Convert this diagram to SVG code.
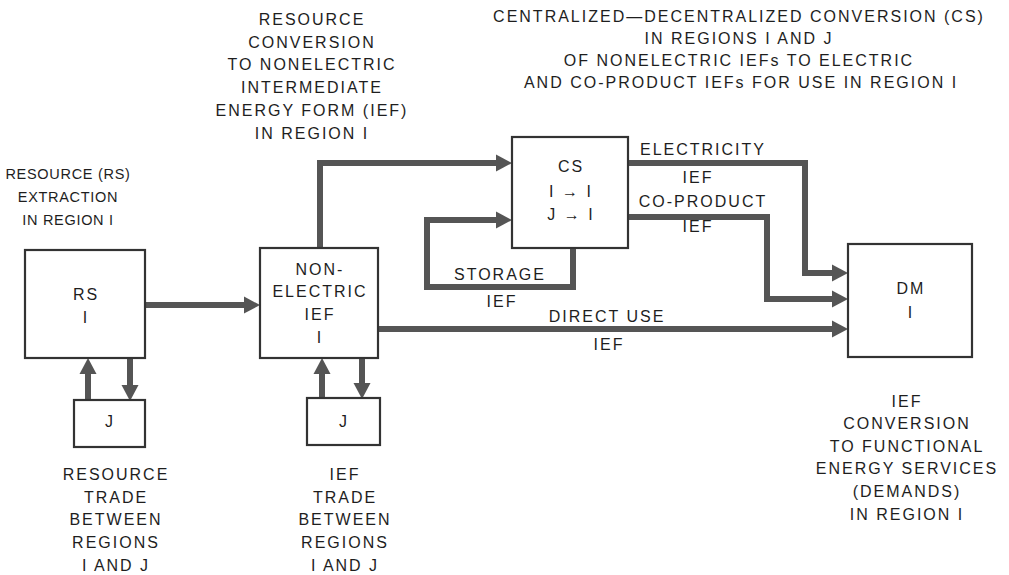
<svg xmlns="http://www.w3.org/2000/svg" width="1009" height="575" viewBox="0 0 1009 575">
<defs>
<style>
text{font-family:"Liberation Sans",Arial,sans-serif;font-size:16px;fill:#1e1e1e;letter-spacing:2px;text-anchor:middle}
.sm{font-size:14.5px;letter-spacing:0.7px}
.box{fill:#fff;stroke:#333;stroke-width:2.2}
.conn{fill:none;stroke:#555;stroke-width:6;stroke-linejoin:miter}
</style>
<marker id="ah" markerUnits="userSpaceOnUse" markerWidth="17" markerHeight="18" refX="0" refY="9" orient="auto">
<path d="M0,0.5 L16,9 L0,17.5 Z" fill="#555"/>
</marker>
</defs>
<rect width="1009" height="575" fill="#fff"/>

<g id="connectors">
<path class="conn" d="M145,305 H244" marker-end="url(#ah)"/>
<path class="conn" d="M88,400 V374" marker-end="url(#ah)"/>
<path class="conn" d="M130,358 V385" marker-end="url(#ah)"/>
<path class="conn" d="M322,398 V374" marker-end="url(#ah)"/>
<path class="conn" d="M362,358 V383" marker-end="url(#ah)"/>
<path class="conn" d="M320,248 V163 H496" marker-end="url(#ah)"/>
<path class="conn" d="M573,248 V287 H427 V220 H496" marker-end="url(#ah)"/>
<path class="conn" d="M628,163 H805 V273 H832" marker-end="url(#ah)"/>
<path class="conn" d="M628,217 H767 V299 H832" marker-end="url(#ah)"/>
<path class="conn" d="M377,329 H832" marker-end="url(#ah)"/>
<text x="703" y="155">ELECTRICITY</text>
<text x="698" y="183">IEF</text>
<text x="703" y="207">CO-PRODUCT</text>
<text x="698" y="232">IEF</text>
<text x="500" y="280">STORAGE</text>
<text x="502" y="307">IEF</text>
<text x="607" y="322">DIRECT USE</text>
<text x="609" y="350">IEF</text>
</g>

<g id="rs">
<rect class="box" x="25" y="250" width="120" height="108"/>
<text x="86" y="300">RS</text>
<text x="86" y="323">I</text>
</g>
<g id="rs-j">
<rect class="box" x="74" y="400" width="71" height="47"/>
<text x="110" y="427">J</text>
</g>
<g id="ne">
<rect class="box" x="260" y="248" width="118" height="110"/>
<text x="320" y="275">NON-</text>
<text x="320" y="297">ELECTRIC</text>
<text x="320" y="320">IEF</text>
<text x="320" y="343">I</text>
</g>
<g id="ne-j">
<rect class="box" x="307" y="398" width="73" height="47"/>
<text x="344" y="427">J</text>
</g>
<g id="cs">
<rect class="box" x="512" y="137" width="116" height="111"/>
<text x="571" y="172">CS</text>
<text x="571" y="197">I → I</text>
<text x="571" y="220">J → I</text>
</g>
<g id="dm">
<rect class="box" x="848" y="244" width="124" height="113"/>
<text x="911" y="294">DM</text>
<text x="911" y="318">I</text>
</g>

<g id="labels">
<text class="sm" x="68" y="179">RESOURCE (RS)</text>
<text class="sm" x="68" y="202">EXTRACTION</text>
<text class="sm" x="68" y="225">IN REGION I</text>

<text x="312" y="25">RESOURCE</text>
<text x="312" y="48">CONVERSION</text>
<text x="312" y="70">TO NONELECTRIC</text>
<text x="312" y="93">INTERMEDIATE</text>
<text x="312" y="116">ENERGY FORM (IEF)</text>
<text x="312" y="139">IN REGION I</text>

<text x="739" y="22">CENTRALIZED—DECENTRALIZED CONVERSION (CS)</text>
<text x="739" y="44">IN REGIONS I AND J</text>
<text x="739" y="66">OF NONELECTRIC IEFs TO ELECTRIC</text>
<text x="741" y="88">AND CO-PRODUCT IEFs FOR USE IN REGION I</text>

<text x="116" y="480">RESOURCE</text>
<text x="116" y="503">TRADE</text>
<text x="116" y="525">BETWEEN</text>
<text x="116" y="548">REGIONS</text>
<text x="116" y="571">I AND J</text>

<text x="345" y="480">IEF</text>
<text x="345" y="503">TRADE</text>
<text x="345" y="525">BETWEEN</text>
<text x="345" y="548">REGIONS</text>
<text x="345" y="571">I AND J</text>

<text x="907" y="407">IEF</text>
<text x="907" y="429">CONVERSION</text>
<text x="907" y="452">TO FUNCTIONAL</text>
<text x="907" y="474">ENERGY SERVICES</text>
<text x="907" y="497">(DEMANDS)</text>
<text x="907" y="520">IN REGION I</text>
</g>
</svg>
